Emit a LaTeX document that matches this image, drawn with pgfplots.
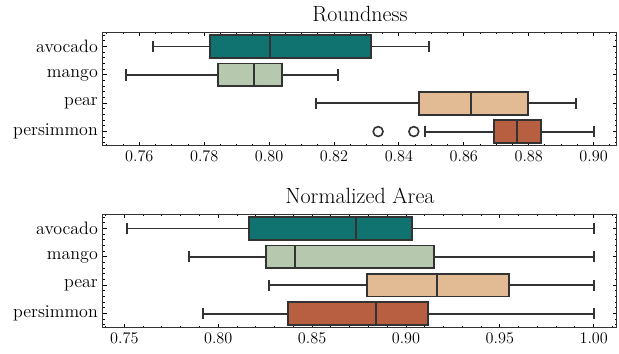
\documentclass[border=0pt]{standalone}
\usepackage{fontspec}
\usepackage{pgfplots}
\pgfplotsset{compat=1.18}
\usepgfplotslibrary{statistics}
\definecolor{cA}{RGB}{17,115,112}
\definecolor{cM}{RGB}{182,200,174}
\definecolor{cP}{RGB}{226,186,148}
\definecolor{cR}{RGB}{183,95,64}
\definecolor{edge}{RGB}{51,51,51}
\pgfplotsset{
  boxplot/every box/.style={draw=edge, line width=1.35pt},
  boxplot/every whisker/.style={draw=edge, line width=1.35pt},
  boxplot/every median/.style={draw=edge, line width=1.35pt},
  common/.style={
    scale only axis, width=354.5pt, height=78.2pt, anchor=south west,
    ymin=-0.5, ymax=3.5,
    ytick={0,1,2,3}, yticklabels={persimmon,pear,mango,avocado},
    minor ytick={-0.4,-0.2,...,3.45},
    tick align=inside, tick pos=both,
    major tick length=2.5pt, minor tick length=1.4pt,
    every tick/.style={line width=0.6pt, black},
    axis line style={line width=0.7pt, black!80},
    yticklabel style={font=\fontsize{12.4}{14}\selectfont},
    xticklabel style={font=\fontsize{11.2}{13}\selectfont},
    boxplot/box extend=0.8, boxplot/whisker extend=0.4,
  },
  bx/.style={draw=edge, fill=#1, line width=1.35pt},
}
\begin{document}
\begin{tikzpicture}
\path[use as bounding box] (0,0) rectangle (426.9pt,244.1pt);
\begin{axis}[common, name=top, at={(71.0pt,143.6pt)},
  xmin=0.7488, xmax=0.9072,
  xtick={0.76,0.78,0.80,0.82,0.84,0.86,0.88,0.90},
  xticklabels={0.76,0.78,0.80,0.82,0.84,0.86,0.88,0.90},
  minor xtick={0.75,0.755,...,0.9055}]
\addplot[bx=cR, mark=*, mark size=3.4pt, mark options={fill=white, draw=edge, line width=1.1pt},
  boxplot prepared={lower whisker=0.8481, lower quartile=0.8693, median=0.8765, upper quartile=0.8837, upper whisker=0.9000, draw position=0}]
  coordinates {(0,0.8336) (0,0.8446)};
\addplot[bx=cP, boxplot prepared={lower whisker=0.8144, lower quartile=0.8461, median=0.8623, upper quartile=0.8798, upper whisker=0.8946, draw position=1}] coordinates {};
\addplot[bx=cM, boxplot prepared={lower whisker=0.7560, lower quartile=0.7844, median=0.7953, upper quartile=0.8040, upper whisker=0.8212, draw position=2}] coordinates {};
\addplot[bx=cA, boxplot prepared={lower whisker=0.7642, lower quartile=0.7817, median=0.8004, upper quartile=0.8314, upper whisker=0.8494, draw position=3}] coordinates {};
\end{axis}
\node[anchor=base, font=\fontsize{15.2}{17}\selectfont] at ([yshift=7.6pt]top.north) {Roundness};
\begin{axis}[common, name=bot, at={(71.0pt,18.1pt)},
  xmin=0.7386, xmax=1.0124,
  xtick={0.75,0.80,0.85,0.90,0.95,1.00},
  xticklabels={0.75,0.80,0.85,0.90,0.95,1.00},
  minor xtick={0.74,0.75,...,1.0105}]
\addplot[bx=cR, boxplot prepared={lower whisker=0.7920, lower quartile=0.8372, median=0.8842, upper quartile=0.9117, upper whisker=1.0, draw position=0}] coordinates {};
\addplot[bx=cP, boxplot prepared={lower whisker=0.8271, lower quartile=0.8791, median=0.9167, upper quartile=0.9551, upper whisker=1.0, draw position=1}] coordinates {};
\addplot[bx=cM, boxplot prepared={lower whisker=0.7846, lower quartile=0.8254, median=0.8408, upper quartile=0.9149, upper whisker=1.0, draw position=2}] coordinates {};
\addplot[bx=cA, boxplot prepared={lower whisker=0.7512, lower quartile=0.8165, median=0.8732, upper quartile=0.9034, upper whisker=1.0, draw position=3}] coordinates {};
\end{axis}
\node[anchor=base, font=\fontsize{15.2}{17}\selectfont] at ([yshift=7.3pt]bot.north) {Normalized Area};
\end{tikzpicture}
\end{document}
